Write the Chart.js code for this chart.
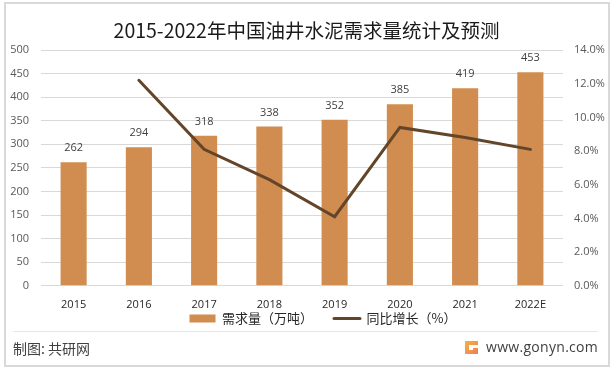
<!DOCTYPE html>
<html><head><meta charset="utf-8">
<script src="https://cdn.jsdelivr.net/npm/chart.js@4"></script>
<style>
html,body{margin:0;padding:0;background:#fff;width:613px;height:368px;overflow:hidden}
#wrap{position:absolute;left:0;top:0;width:613px;height:368px}
#frame{position:absolute;left:4px;top:2px;width:602px;height:361px;border:2px solid #d9d9d9;box-sizing:content-box}
canvas{position:absolute;left:0;top:0}
#rule{position:absolute;left:13px;top:331px;width:585px;height:1px;background:#e6e6e6}
#src{position:absolute;left:13px;top:339px;font:14px/18px "Noto Sans CJK SC",sans-serif;color:#404040}
#url{position:absolute;left:486px;top:337px;font:14px/20px "Open Sans",sans-serif;color:#404040;letter-spacing:.3px}
#logo{position:absolute;left:464px;top:340px}
</style></head><body>
<div id="wrap">
<div id="frame"></div>
<canvas id="c" width="613" height="368"></canvas>
<div id="rule"></div>
<div id="src">制图: 共研网</div>
<svg id="logo" width="15" height="15" viewBox="0 0 15 15"><defs><linearGradient id="g" x1="0" y1="0" x2="1" y2="1"><stop offset="0" stop-color="#f6b23c"/><stop offset="1" stop-color="#ee7d5a"/></linearGradient></defs><path d="M1 1H14V5H5V10H9V8H14V14H1Z" fill="url(#g)"/></svg>
<div id="url">www.gonyn.com</div>
</div>
<script>
const titleText = '2015-2022年中国油井水泥需求量统计及预测';
const categories = ['2015','2016','2017','2018','2019','2020','2021','2022E'];
const demand = [262,294,318,338,352,385,419,453];
const growth = [null,12.2,8.1,6.3,4.1,9.4,8.8,8.1];
const demandLabel = '需求量（万吨）';
const growthLabel = '同比增长（%）';
const barColor = '#d18c4f', lineColor = '#634529';
const latin = '"Open Sans","Noto Sans CJK SC",sans-serif';
const cjk = '"Noto Sans CJK SC",sans-serif';
const valueLabels = {
  id:'valueLabels',
  beforeDraw(chart){
    const lg = chart.legend;
    lg.top = 318 - 21 - 6; lg.left += 16.5; lg.right += 16.5;
  },
  afterDatasetsDraw(chart){
    const meta = chart.getDatasetMeta(1), ctx = chart.ctx;
    ctx.save();
    ctx.font = '11px '+latin; ctx.fillStyle = '#404040';
    ctx.textAlign='center'; ctx.textBaseline='middle';
    meta.data.forEach((el,i)=>ctx.fillText(demand[i], el.x, el.y-14));
    ctx.restore();
  }
};
new Chart(document.getElementById('c'),{
  data:{labels:categories,datasets:[
    {type:'line',label:growthLabel,data:growth,yAxisID:'y2',borderColor:lineColor,backgroundColor:lineColor,borderWidth:3,pointRadius:0,tension:0,order:1,borderCapStyle:'round'},
    {type:'bar',label:demandLabel,data:demand,yAxisID:'y',backgroundColor:barColor,barPercentage:.4,categoryPercentage:1,order:2}
  ]},
  options:{
    responsive:false,animation:false,
    layout:{padding:{left:0,right:0,top:0,bottom:1}},
    scales:{
      x:{grid:{display:false,drawTicks:false},border:{display:false},ticks:{color:'#262626',font:{size:11,family:latin},padding:12,maxRotation:0}},
      y:{position:'left',min:0,max:500,afterFit(s){s.width=41},
        ticks:{stepSize:50,color:'#595959',font:{size:11,family:latin},padding:12},
        grid:{color:'#d9d9d9',lineWidth:1,drawTicks:false},border:{display:false}},
      y2:{position:'right',min:0,max:14,afterFit(s){s.width=50},
        ticks:{stepSize:2,color:'#595959',font:{size:11,family:latin},padding:11,callback:v=>v.toFixed(1)+'%'},
        grid:{display:false,drawTicks:false},border:{display:false}}
    },
    plugins:{
      title:{display:true,text:titleText,color:'#1a1a1a',font:{size:19.5,weight:'normal',family:cjk},padding:{top:19,bottom:7.6}},
      legend:{position:'bottom',labels:{color:'#262626',font:{size:13,family:cjk},usePointStyle:true,pointStyleWidth:26,padding:21,
        generateLabels(){return [
          {text:demandLabel,pointStyle:'line',strokeStyle:barColor,fillStyle:barColor,lineWidth:8,lineCap:'butt',datasetIndex:1,fontColor:'#262626'},
          {text:growthLabel,pointStyle:'line',strokeStyle:lineColor,fillStyle:lineColor,lineWidth:3,lineCap:'round',datasetIndex:0,fontColor:'#262626'}
        ];}}},
      tooltip:{enabled:false}
    }
  },
  plugins:[valueLabels]
});
</script>
</body></html>
